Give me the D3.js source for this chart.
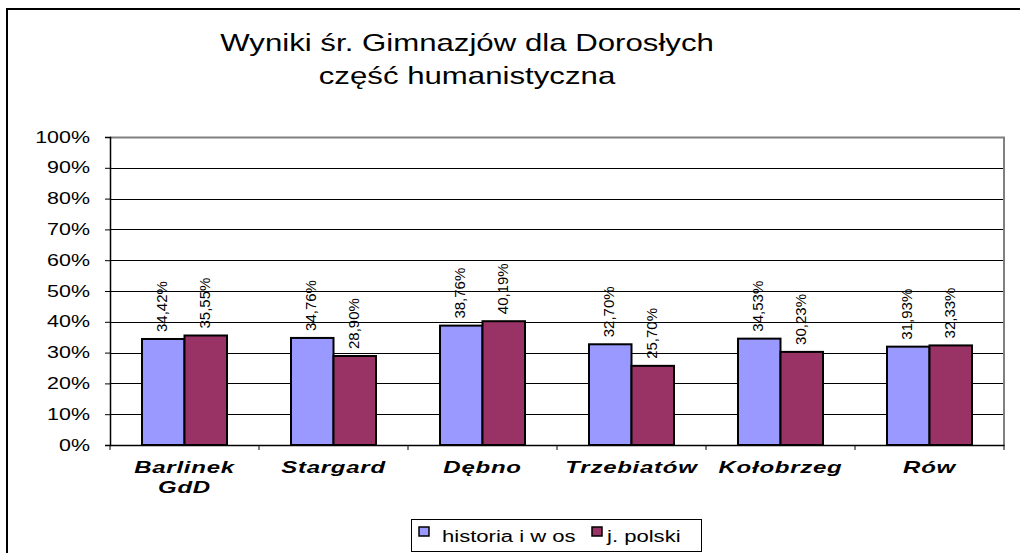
<!DOCTYPE html>
<html>
<head>
<meta charset="utf-8">
<script src="https://cdn.jsdelivr.net/npm/d3@7"></script>
<style>
  body { margin: 0; background: #fff; }
  svg { display: block; font-family: Arial, "Liberation Sans", sans-serif; }
</style>
</head>
<body>
<svg id="chart" width="1020" height="553"></svg>
<script>
// data
const categories = ["Barlinek GdD", "Stargard", "Dębno", "Trzebiatów", "Kołobrzeg", "Rów"];
const seriesNames = ["historia i w os", "j. polski"];
const historia = [34.42, 34.76, 38.76, 32.70, 34.53, 31.93];
const polski = [35.55, 28.90, 40.19, 25.70, 30.23, 32.33];
const yTicks = [0, 10, 20, 30, 40, 50, 60, 70, 80, 90, 100];
const colors = ["#9999FF", "#993366"];

const svg = d3.select("#chart");
const plotL = 110, plotR = 1004, plotT = 137, plotB = 445;

// outer frame
svg.append("rect").attr("x", 7).attr("y", 9).attr("width", 1030).attr("height", 560)
  .attr("fill", "#fff").attr("stroke", "#000").attr("stroke-width", 2);

// title - the original is stretched horizontally
const titleLines = ["Wyniki śr. Gimnazjów dla Dorosłych", "część humanistyczna"];
svg.append("g").selectAll("text").data(titleLines).join("text")
  .attr("text-anchor", "middle").attr("font-size", 24).attr("fill", "#000")
  .attr("transform", (d, i) => `translate(467,${51 + i * 33}) scale(1.3,1)`)
  .text(d => d);

const x0 = d3.scaleBand().domain(categories).range([plotL, plotR]).paddingInner(0).paddingOuter(0);
const x1 = d3.scaleBand().domain(seriesNames).range([32, x0.bandwidth() - 32]);
const y = d3.scaleLinear().domain([0, 100]).range([plotB, plotT]);

// gridlines
svg.append("g").selectAll("line").data(yTicks.slice(1, -1)).join("line")
  .attr("x1", plotL).attr("x2", plotR)
  .attr("y1", d => Math.round(y(d)) + 0.5).attr("y2", d => Math.round(y(d)) + 0.5)
  .attr("stroke", "#000").attr("stroke-width", 1);

// plot border top/right (grey)
svg.append("path")
  .attr("d", `M${plotL},${plotT + 0.5}H${plotR}V${plotB}`)
  .attr("fill", "none").attr("stroke", "#808080").attr("stroke-width", 2);

// bars
const rows = categories.map((c, i) => ({ cat: c, vals: [historia[i], polski[i]] }));
const groups = svg.append("g").selectAll("g").data(rows).join("g")
  .attr("transform", d => `translate(${x0(d.cat)},0)`);

groups.selectAll("rect").data(d => d.vals.map((v, j) => ({ v, s: seriesNames[j], j }))).join("rect")
  .attr("x", d => x1(d.s))
  .attr("y", d => y(d.v))
  .attr("width", x1.bandwidth())
  .attr("height", d => plotB - y(d.v))
  .attr("fill", d => colors[d.j])
  .attr("stroke", "#000").attr("stroke-width", 2);

// value labels
const fmt = v => v.toFixed(2).replace(".", ",") + "%";
groups.selectAll("text").data(d => d.vals.map((v, j) => ({ v, s: seriesNames[j] }))).join("text")
  .attr("transform", d => `translate(${x1(d.s) + x1.bandwidth() / 2 + 4},${y(d.v) - 7}) rotate(-90)`)
  .attr("font-size", 15).attr("fill", "#000")
  .text(d => fmt(d.v));

// y axis
const yAxis = d3.axisLeft(y).tickValues(yTicks).tickFormat(d => d + "%").tickSize(5).tickPadding(20);
const ya = svg.append("g").attr("transform", `translate(${plotL},0)`).call(yAxis);
ya.select(".domain").attr("stroke", "#000").attr("stroke-width", 1.5);
ya.selectAll(".tick line").attr("stroke", "#000");
ya.selectAll(".tick text").attr("font-size", 16).attr("font-family", "Arial, 'Liberation Sans', sans-serif")
  .attr("x", 0).attr("transform", "translate(-20,0) scale(1.34,1)").attr("fill", "#000");

// x axis
const xAxis = d3.axisBottom(x0).tickSize(0).tickFormat("");
const xa = svg.append("g").attr("transform", `translate(0,${plotB})`).call(xAxis);
xa.select(".domain").attr("stroke", "#000").attr("stroke-width", 1.5);
xa.selectAll(".sep").data(d3.range(categories.length + 1)).join("line")
  .attr("class", "sep")
  .attr("x1", i => plotL + i * x0.bandwidth()).attr("x2", i => plotL + i * x0.bandwidth())
  .attr("y1", 0).attr("y2", 5).attr("stroke", "#000");

// category labels
const lbl = svg.append("g").selectAll("text").data(categories).join("text")
  .attr("text-anchor", "middle")
  .attr("font-size", 16).attr("font-weight", "bold").attr("font-style", "italic")
  .attr("letter-spacing", 0.5).attr("fill", "#000")
  .attr("transform", d => `translate(${x0(d) + x0.bandwidth() / 2},473) scale(1.5,1)`);
lbl.each(function (d) {
  const parts = d === "Barlinek GdD" ? ["Barlinek", "GdD"] : [d];
  parts.forEach((p, k) => {
    d3.select(this).append("tspan").attr("x", 0).attr("y", k * 20).text(p);
  });
});

// legend
const lg = svg.append("g");
lg.append("rect").attr("x", 411.5).attr("y", 519.5).attr("width", 290).attr("height", 32)
  .attr("fill", "#fff").attr("stroke", "#000").attr("stroke-width", 1);
const legX = [419, 592];
const legT = [442, 607];
seriesNames.forEach((s, i) => {
  lg.append("rect").attr("x", legX[i]).attr("y", 527).attr("width", 10).attr("height", 9)
    .attr("fill", colors[i]).attr("stroke", "#000").attr("stroke-width", 1.5);
  lg.append("text").attr("transform", `translate(${legT[i]},542) scale(1.38,1)`)
    .attr("font-size", 16).attr("fill", "#000").text(s);
});
</script>
</body>
</html>
